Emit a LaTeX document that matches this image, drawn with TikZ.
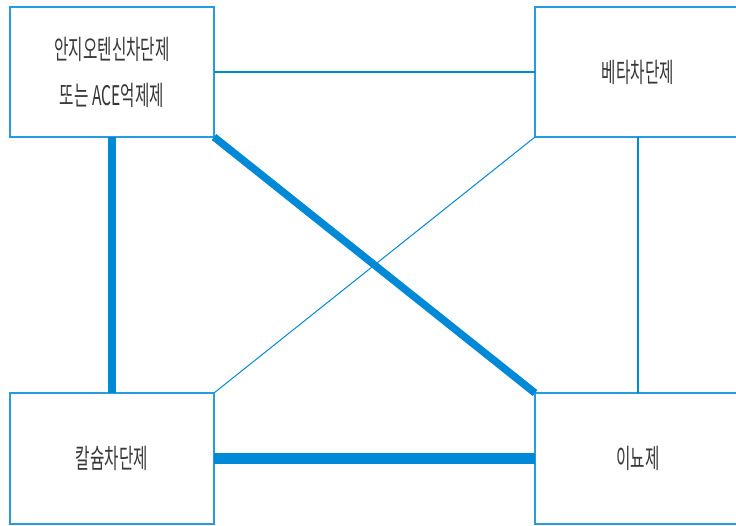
\documentclass[tikz,border=0pt]{standalone}
\usepackage{fontspec}
\newfontfamily\kr[FakeStretch=0.58]{Noto Sans CJK KR}
\definecolor{lineblue}{RGB}{0,137,215}
\definecolor{boxblue}{RGB}{40,155,222}
\definecolor{txt}{RGB}{55,55,55}
\begin{document}
\begin{tikzpicture}[x=1pt,y=-1pt,
  drugbox/.style={draw=boxblue,line width=1.6pt,fill=white,inner sep=0pt,outer sep=0pt,
    minimum height=130pt,align=center,text=txt,font=\kr\fontsize{27}{46}\selectfont},
  thin/.style={draw=lineblue,line width=1.4pt},
  thinner/.style={draw=lineblue,line width=1pt},
  thick/.style={draw=lineblue,line width=7.5pt},
  thicker/.style={draw=lineblue,line width=11pt}]
\useasboundingbox (0,0) rectangle (736,526);
\clip (0,0) rectangle (736,526);
\node[drugbox,minimum width=204pt] (tl) at (112,72) {안지오텐신차단제\\또는 ACE억제제};
\node[drugbox,minimum width=206pt] (tr) at (638,72) {베타차단제};
\node[drugbox,minimum width=204pt,minimum height=131pt] (bl) at (112,458.5) {칼슘차단제};
\node[drugbox,minimum width=206pt,minimum height=131pt] (br) at (638,458.5) {이뇨제};
\draw[thin] (tl.east) -- (tr.west);
\draw[thin] (tr.south) -- (br.north);
\draw[thinner] (bl.north east) -- (tr.south west);
\draw[thick] (tl.south) -- (bl.north);
\draw[thick] (tl.south east) -- (br.north west);
\draw[thicker] (bl.east) -- (br.west);
\end{tikzpicture}
\end{document}
